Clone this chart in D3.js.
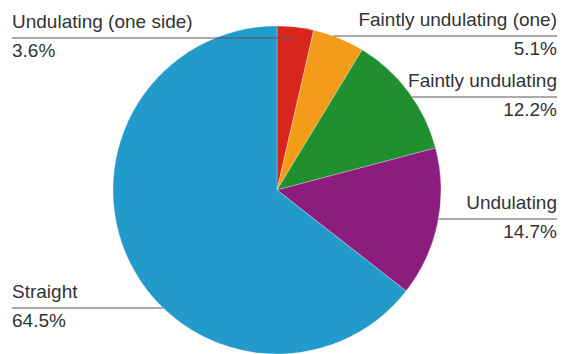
<!DOCTYPE html>
<html><head><meta charset="utf-8">
<script src="https://cdn.jsdelivr.net/npm/d3@7"></script>
<style>html,body{margin:0;padding:0;background:#fff;}svg{display:block;}</style>
</head><body>
<script>
const categories = ["Undulating (one side)", "Faintly undulating (one)", "Faintly undulating", "Undulating", "Straight"];
const values = [3.6, 5.1, 12.2, 14.7, 64.5];
const valueLabels = ["3.6%", "5.1%", "12.2%", "14.7%", "64.5%"];
const colors = ["#d9261c", "#f39c1a", "#1f8f30", "#8c1d7e", "#229bcb"];
// label layout: side and y of leader line
const labelSide = ["left", "right", "right", "right", "left"];
const labelLineY = [38, 36, 97, 219, 308];

const W = 565, H = 354, cx = 277, cy = 190, R = 164;
const svg = d3.select("body").append("svg").attr("width", W).attr("height", H);
const g = svg.append("g").attr("transform", `translate(${cx},${cy})`);

const data = categories.map((c, i) => ({ name: c, value: values[i], label: valueLabels[i], color: colors[i], side: labelSide[i], ly: labelLineY[i] }));
const pie = d3.pie().sort(null).value(d => d.value);
const arcs = pie(data);
const arc = d3.arc().innerRadius(0).outerRadius(R);

g.selectAll("path").data(arcs).join("path")
  .attr("d", arc)
  .attr("fill", d => d.data.color)
  .attr("stroke", "rgba(255,255,255,0.45)")
  .attr("stroke-width", 0.6);

const lab = svg.append("g").attr("font-family", "'Liberation Sans', Arial, sans-serif").attr("font-size", 19).attr("fill", "#333");
arcs.forEach((a, i) => {
  const d = a.data;
  const mid = (a.startAngle + a.endAngle) / 2;
  let ex, ey;
  if (i === 0) {
    const rr = R * 0.93;
    ex = cx + rr * Math.sin(mid); ey = d.ly;
  } else {
    const dy = d.ly - cy;
    const dx = Math.sqrt(Math.max(0, R * R - dy * dy));
    ex = d.side === "left" ? cx - dx : cx + dx; ey = d.ly;
  }
  const x0 = d.side === "left" ? 12 : 557;
  lab.append("line").attr("x1", x0).attr("y1", ey).attr("x2", ex).attr("y2", ey)
    .attr("stroke", "#5a5555").attr("stroke-width", 1.2);
  const anchor = d.side === "left" ? "start" : "end";
  lab.append("text").attr("x", x0).attr("y", ey - 10).attr("text-anchor", anchor).text(d.name);
  lab.append("text").attr("x", x0).attr("y", ey + 19).attr("text-anchor", anchor).text(d.label);
});
</script>
</body></html>
